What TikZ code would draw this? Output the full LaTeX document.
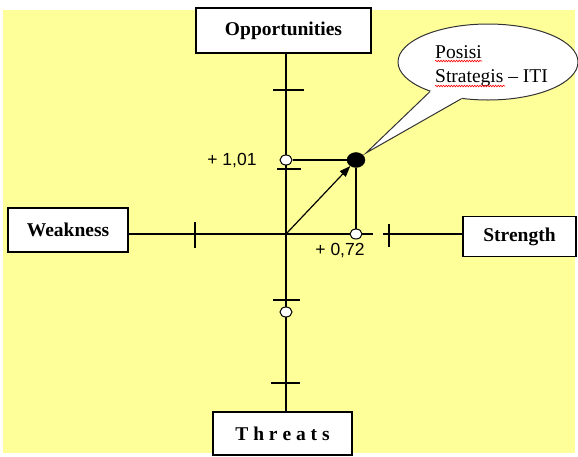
\documentclass[tikz,border=0pt]{standalone}
\usepackage{fontspec}
\setmainfont{Liberation Serif}
\newfontfamily\arialf{Liberation Sans}
\usetikzlibrary{shapes.geometric,arrows.meta,decorations.pathmorphing,calc}
\definecolor{bgyellow}{HTML}{FFFF99}
\begin{document}
\begin{tikzpicture}[x=1pt,y=-1pt,
  box/.style={draw=black, line width=1.3pt, fill=white, inner sep=0pt, outer sep=0pt,
    font=\fontsize{19.5}{23}\selectfont\bfseries},
  axisline/.style={line width=1.2pt},
  tickline/.style={line width=1.2pt},
  odot/.style={draw, fill=white, ellipse, minimum width=12pt, minimum height=10pt, inner sep=0pt, line width=1pt},
  fdot/.style={draw, fill=black, ellipse, minimum width=18pt, minimum height=15pt, inner sep=0pt},
  numlabel/.style={font=\arialf\fontsize{17.5}{20}\selectfont, inner sep=0pt},
  calltext/.style={font=\fontsize{19.5}{23}\selectfont, inner sep=0pt, anchor=base west},
  squig/.style={red, line width=0.6pt, decorate, decoration={snake, amplitude=0.8pt, segment length=2.6pt}}
]
\useasboundingbox (0,0) rectangle (578,456);
\fill[white] (0,0) rectangle (578,456);
\fill[bgyellow] (3,10) rectangle (575,453);

% boxes
\node[box, minimum width=175pt, minimum height=45pt] (opp) at (283.5,30.5) {Opportunities};
\node[box, minimum width=120pt, minimum height=44pt] (wk) at (68,230) {Weakness};
\node[box, minimum width=113pt, minimum height=40pt] (st) at (519.5,236.5) {Strength};
\node[box, minimum width=139pt, minimum height=43pt] (thr) at (282.5,433.5) {T h r e a t s};

% axes
\coordinate (o) at (286,234);
\coordinate (gapL) at (373,234);
\coordinate (gapR) at (383,234);
\draw[axisline] (o |- opp.south) -- (o |- thr.north);
\draw[axisline] (wk.east |- o) -- (gapL);
\draw[axisline] (gapR) -- (st.west |- o);

% ticks
\draw[tickline] (273,90) -- (304,90);
\draw[tickline] (277,169) -- (301,169);
\draw[tickline] (273,300) -- (300,300);
\draw[tickline] (271,383) -- (300,383);
\draw[tickline] (195,222) -- (195,248);
\draw[tickline] (389,224) -- (389,247);

% points
\node[fdot] (fd) at (356,160) {};
\node[odot] (oy) at (o |- fd) {};
\node[odot] (ox) at (fd |- o) {};
\node[odot] (ot) at (286,312) {};
\draw[line width=1.2pt] (oy) -- (fd);
\draw[line width=1.2pt] (fd) -- (ox);
\draw[line width=1.2pt, -{Triangle[length=11pt,width=8pt]}] (o) -- (fd);

% labels
\node[numlabel] (l1) at (232,161) {+ 1,01};
\node[numlabel] (l2) at (340,251) {+ 0,72};

% callout
\node[draw=black!80, line width=1pt, fill=white, ellipse, minimum width=180pt, minimum height=76pt] (call) at (488,62) {};
\coordinate (tip) at (366,153);
\fill[white] (tip) -- (call.207) -- ($(call.207)+(6,-3)$) -- ($(call.234)+(2,-6)$) -- (call.234) -- cycle;
\draw[black!80, line width=1pt] (call.207) -- (tip) -- (call.234);
\node[calltext] (t1) at (435,58) {Posisi};
\node[calltext] (t2) at (435,82) {Strategis -- ITI};
\draw[squig] (435,61) -- (482,61);
\draw[squig] (435,86) -- (505,86);
\end{tikzpicture}
\end{document}
